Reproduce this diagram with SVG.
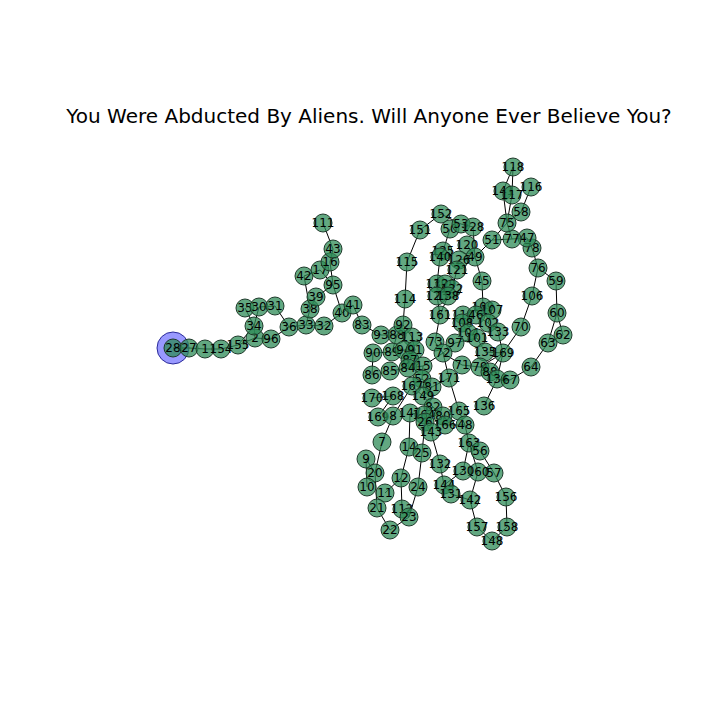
<svg xmlns="http://www.w3.org/2000/svg" width="720" height="720" viewBox="0 0 720 720">
<style>
.e line{stroke:#000;stroke-width:1}
.n circle{fill:#2e8b57;fill-opacity:0.75;stroke:#1f3a2b;stroke-width:1}
.n text{font-family:"DejaVu Sans",sans-serif;font-size:12px;fill:#000;text-anchor:middle;dominant-baseline:central}
.t{font-family:"DejaVu Sans",sans-serif;font-size:20px;fill:#000;text-anchor:middle}
</style>
<rect width="720" height="720" fill="#fff"/>
<text class="t" x="369" y="123">You Were Abducted By Aliens. Will Anyone Ever Believe You?</text>
<circle id="highlight" cx="173" cy="348" r="16" fill="#0000ff" fill-opacity="0.4" stroke="#2a2a9a" stroke-width="1"/>
<g class="e" id="edges">
<line x1="173" y1="348" x2="189" y2="348"/><line x1="189" y1="348" x2="205" y2="349"/><line x1="205" y1="349" x2="221" y2="349"/><line x1="221" y1="349" x2="238" y2="345"/><line x1="238" y1="345" x2="255" y2="338"/><line x1="238" y1="345" x2="254" y2="326"/><line x1="255" y1="338" x2="254" y2="326"/><line x1="255" y1="338" x2="271" y2="339"/><line x1="254" y1="326" x2="245" y2="308"/><line x1="254" y1="326" x2="259" y2="307"/><line x1="259" y1="307" x2="275" y2="306"/><line x1="275" y1="306" x2="289" y2="327"/><line x1="271" y1="339" x2="289" y2="327"/><line x1="289" y1="327" x2="306" y2="325"/><line x1="306" y1="325" x2="324" y2="326"/><line x1="306" y1="325" x2="310" y2="309"/><line x1="310" y1="309" x2="316" y2="297"/><line x1="310" y1="309" x2="304" y2="276"/><line x1="304" y1="276" x2="320" y2="270"/><line x1="316" y1="297" x2="333" y2="285"/><line x1="333" y1="285" x2="330" y2="262"/><line x1="333" y1="285" x2="320" y2="270"/><line x1="330" y1="262" x2="333" y2="249"/><line x1="333" y1="249" x2="323" y2="223"/><line x1="333" y1="285" x2="342" y2="313"/><line x1="342" y1="313" x2="324" y2="326"/><line x1="342" y1="313" x2="353" y2="305"/><line x1="353" y1="305" x2="362" y2="325"/><line x1="362" y1="325" x2="381" y2="335"/><line x1="381" y1="335" x2="397" y2="335"/><line x1="397" y1="335" x2="403" y2="325"/><line x1="397" y1="335" x2="392" y2="352"/><line x1="403" y1="325" x2="412" y2="337"/><line x1="403" y1="325" x2="405" y2="299"/><line x1="405" y1="299" x2="407" y2="262"/><line x1="407" y1="262" x2="420" y2="230"/><line x1="420" y1="230" x2="441" y2="214"/><line x1="441" y1="214" x2="461" y2="224"/><line x1="461" y1="224" x2="473" y2="227"/><line x1="450" y1="229" x2="443" y2="251"/><line x1="473" y1="227" x2="475" y2="257"/><line x1="467" y1="245" x2="475" y2="257"/><line x1="459" y1="260" x2="475" y2="257"/><line x1="475" y1="257" x2="492" y2="240"/><line x1="475" y1="257" x2="482" y2="281"/><line x1="482" y1="281" x2="483" y2="307"/><line x1="443" y1="251" x2="440" y2="257"/><line x1="440" y1="257" x2="437" y2="284"/><line x1="459" y1="260" x2="457" y2="270"/><line x1="457" y1="270" x2="452" y2="289"/><line x1="437" y1="284" x2="437" y2="296"/><line x1="445" y1="284" x2="448" y2="296"/><line x1="452" y1="289" x2="448" y2="296"/><line x1="448" y1="296" x2="440" y2="315"/><line x1="437" y1="296" x2="440" y2="315"/><line x1="440" y1="315" x2="435" y2="342"/><line x1="435" y1="342" x2="443" y2="353"/><line x1="443" y1="353" x2="455" y2="343"/><line x1="455" y1="343" x2="477" y2="338"/><line x1="443" y1="353" x2="462" y2="365"/><line x1="443" y1="353" x2="423" y2="366"/><line x1="443" y1="353" x2="449" y2="378"/><line x1="462" y1="365" x2="480" y2="367"/><line x1="480" y1="367" x2="490" y2="372"/><line x1="490" y1="372" x2="497" y2="379"/><line x1="497" y1="379" x2="510" y2="380"/><line x1="510" y1="380" x2="531" y2="367"/><line x1="531" y1="367" x2="548" y2="343"/><line x1="548" y1="343" x2="563" y2="335"/><line x1="548" y1="343" x2="557" y2="313"/><line x1="563" y1="335" x2="557" y2="313"/><line x1="557" y1="313" x2="556" y2="281"/><line x1="556" y1="281" x2="538" y2="268"/><line x1="538" y1="268" x2="532" y2="248"/><line x1="538" y1="268" x2="532" y2="296"/><line x1="532" y1="296" x2="521" y2="327"/><line x1="521" y1="327" x2="503" y2="353"/><line x1="503" y1="353" x2="485" y2="352"/><line x1="503" y1="353" x2="490" y2="372"/><line x1="503" y1="353" x2="498" y2="332"/><line x1="503" y1="353" x2="497" y2="379"/><line x1="503" y1="353" x2="480" y2="367"/><line x1="485" y1="352" x2="477" y2="338"/><line x1="498" y1="332" x2="488" y2="323"/><line x1="488" y1="323" x2="492" y2="310"/><line x1="492" y1="310" x2="483" y2="307"/><line x1="483" y1="307" x2="463" y2="315"/><line x1="463" y1="315" x2="462" y2="323"/><line x1="462" y1="323" x2="468" y2="333"/><line x1="468" y1="333" x2="477" y2="338"/><line x1="476" y1="315" x2="488" y2="323"/><line x1="492" y1="240" x2="507" y2="223"/><line x1="507" y1="223" x2="512" y2="239"/><line x1="512" y1="239" x2="527" y2="238"/><line x1="527" y1="238" x2="532" y2="248"/><line x1="507" y1="223" x2="503" y2="191"/><line x1="507" y1="223" x2="512" y2="195"/><line x1="512" y1="195" x2="513" y2="167"/><line x1="503" y1="191" x2="513" y2="167"/><line x1="507" y1="223" x2="521" y2="212"/><line x1="521" y1="212" x2="531" y2="187"/><line x1="512" y1="239" x2="492" y2="240"/><line x1="497" y1="379" x2="484" y2="406"/><line x1="459" y1="411" x2="465" y2="425"/><line x1="449" y1="378" x2="459" y2="411"/><line x1="392" y1="352" x2="373" y2="353"/><line x1="373" y1="353" x2="372" y2="375"/><line x1="390" y1="371" x2="408" y2="368"/><line x1="392" y1="352" x2="404" y2="350"/><line x1="404" y1="350" x2="415" y2="350"/><line x1="412" y1="337" x2="415" y2="350"/><line x1="415" y1="350" x2="410" y2="360"/><line x1="410" y1="360" x2="408" y2="368"/><line x1="408" y1="368" x2="423" y2="366"/><line x1="423" y1="366" x2="422" y2="379"/><line x1="422" y1="379" x2="412" y2="386"/><line x1="422" y1="379" x2="432" y2="387"/><line x1="412" y1="386" x2="423" y2="396"/><line x1="432" y1="387" x2="423" y2="396"/><line x1="423" y1="396" x2="433" y2="407"/><line x1="433" y1="407" x2="443" y2="416"/><line x1="443" y1="416" x2="445" y2="425"/><line x1="445" y1="425" x2="465" y2="425"/><line x1="433" y1="407" x2="424" y2="415"/><line x1="424" y1="415" x2="425" y2="422"/><line x1="425" y1="422" x2="431" y2="432"/><line x1="431" y1="432" x2="440" y2="464"/><line x1="440" y1="464" x2="444" y2="485"/><line x1="444" y1="485" x2="451" y2="494"/><line x1="451" y1="494" x2="470" y2="500"/><line x1="444" y1="485" x2="463" y2="471"/><line x1="463" y1="471" x2="469" y2="443"/><line x1="469" y1="443" x2="465" y2="425"/><line x1="469" y1="443" x2="478" y2="472"/><line x1="469" y1="443" x2="480" y2="451"/><line x1="480" y1="451" x2="494" y2="473"/><line x1="494" y1="473" x2="506" y2="497"/><line x1="506" y1="497" x2="507" y2="527"/><line x1="507" y1="527" x2="492" y2="541"/><line x1="492" y1="541" x2="477" y2="527"/><line x1="477" y1="527" x2="470" y2="500"/><line x1="478" y1="472" x2="470" y2="500"/><line x1="425" y1="422" x2="422" y2="453"/><line x1="422" y1="453" x2="418" y2="487"/><line x1="418" y1="487" x2="409" y2="517"/><line x1="409" y1="517" x2="390" y2="530"/><line x1="390" y1="530" x2="377" y2="508"/><line x1="377" y1="508" x2="375" y2="473"/><line x1="375" y1="473" x2="366" y2="459"/><line x1="366" y1="459" x2="367" y2="487"/><line x1="385" y1="493" x2="401" y2="478"/><line x1="401" y1="478" x2="409" y2="447"/><line x1="409" y1="447" x2="410" y2="413"/><line x1="401" y1="478" x2="402" y2="509"/><line x1="402" y1="509" x2="409" y2="517"/><line x1="382" y1="442" x2="375" y2="473"/><line x1="382" y1="442" x2="393" y2="416"/><line x1="393" y1="416" x2="412" y2="386"/><line x1="378" y1="417" x2="393" y2="396"/><line x1="393" y1="396" x2="372" y2="398"/><line x1="410" y1="413" x2="424" y2="415"/><line x1="432" y1="387" x2="449" y2="378"/>
</g>
<g class="n">
<g id="n28"><circle cx="173" cy="348" r="9"/><text x="173" y="348">28</text></g>
<g id="n27"><circle cx="189" cy="348" r="9"/><text x="189" y="348">27</text></g>
<g id="n1"><circle cx="205" cy="349" r="9"/><text x="205" y="349">1</text></g>
<g id="n154"><circle cx="221" cy="349" r="9"/><text x="221" y="349">154</text></g>
<g id="n155"><circle cx="238" cy="345" r="9"/><text x="238" y="345">155</text></g>
<g id="n2"><circle cx="255" cy="338" r="9"/><text x="255" y="338">2</text></g>
<g id="n96"><circle cx="271" cy="339" r="9"/><text x="271" y="339">96</text></g>
<g id="n34"><circle cx="254" cy="326" r="9"/><text x="254" y="326">34</text></g>
<g id="n35"><circle cx="245" cy="308" r="9"/><text x="245" y="308">35</text></g>
<g id="n30"><circle cx="259" cy="307" r="9"/><text x="259" y="307">30</text></g>
<g id="n31"><circle cx="275" cy="306" r="9"/><text x="275" y="306">31</text></g>
<g id="n36"><circle cx="289" cy="327" r="9"/><text x="289" y="327">36</text></g>
<g id="n33"><circle cx="306" cy="325" r="9"/><text x="306" y="325">33</text></g>
<g id="n32"><circle cx="324" cy="326" r="9"/><text x="324" y="326">32</text></g>
<g id="n38"><circle cx="310" cy="309" r="9"/><text x="310" y="309">38</text></g>
<g id="n39"><circle cx="316" cy="297" r="9"/><text x="316" y="297">39</text></g>
<g id="n42"><circle cx="304" cy="276" r="9"/><text x="304" y="276">42</text></g>
<g id="n17"><circle cx="320" cy="270" r="9"/><text x="320" y="270">17</text></g>
<g id="n16"><circle cx="330" cy="262" r="9"/><text x="330" y="262">16</text></g>
<g id="n43"><circle cx="333" cy="249" r="9"/><text x="333" y="249">43</text></g>
<g id="n111"><circle cx="323" cy="223" r="9"/><text x="323" y="223">111</text></g>
<g id="n95"><circle cx="333" cy="285" r="9"/><text x="333" y="285">95</text></g>
<g id="n40"><circle cx="342" cy="313" r="9"/><text x="342" y="313">40</text></g>
<g id="n41"><circle cx="353" cy="305" r="9"/><text x="353" y="305">41</text></g>
<g id="n83"><circle cx="362" cy="325" r="9"/><text x="362" y="325">83</text></g>
<g id="n93"><circle cx="381" cy="335" r="9"/><text x="381" y="335">93</text></g>
<g id="n114"><circle cx="405" cy="299" r="9"/><text x="405" y="299">114</text></g>
<g id="n115"><circle cx="407" cy="262" r="9"/><text x="407" y="262">115</text></g>
<g id="n151"><circle cx="420" cy="230" r="9"/><text x="420" y="230">151</text></g>
<g id="n152"><circle cx="441" cy="214" r="9"/><text x="441" y="214">152</text></g>
<g id="n50"><circle cx="450" cy="229" r="9"/><text x="450" y="229">50</text></g>
<g id="n53"><circle cx="461" cy="224" r="9"/><text x="461" y="224">53</text></g>
<g id="n128"><circle cx="473" cy="227" r="9"/><text x="473" y="227">128</text></g>
<g id="n120"><circle cx="467" cy="245" r="9"/><text x="467" y="245">120</text></g>
<g id="n49"><circle cx="475" cy="257" r="9"/><text x="475" y="257">49</text></g>
<g id="n125"><circle cx="443" cy="251" r="9"/><text x="443" y="251">125</text></g>
<g id="n140"><circle cx="440" cy="257" r="9"/><text x="440" y="257">140</text></g>
<g id="n126"><circle cx="459" cy="260" r="9"/><text x="459" y="260">126</text></g>
<g id="n121"><circle cx="457" cy="270" r="9"/><text x="457" y="270">121</text></g>
<g id="n45"><circle cx="482" cy="281" r="9"/><text x="482" y="281">45</text></g>
<g id="n139"><circle cx="437" cy="284" r="9"/><text x="437" y="284">139</text></g>
<g id="n129"><circle cx="445" cy="284" r="9"/><text x="445" y="284">129</text></g>
<g id="n122"><circle cx="452" cy="289" r="9"/><text x="452" y="289">122</text></g>
<g id="n123"><circle cx="437" cy="296" r="9"/><text x="437" y="296">123</text></g>
<g id="n138"><circle cx="448" cy="296" r="9"/><text x="448" y="296">138</text></g>
<g id="n161"><circle cx="440" cy="315" r="9"/><text x="440" y="315">161</text></g>
<g id="n109"><circle cx="483" cy="307" r="9"/><text x="483" y="307">109</text></g>
<g id="n107"><circle cx="492" cy="310" r="9"/><text x="492" y="310">107</text></g>
<g id="n110"><circle cx="463" cy="315" r="9"/><text x="463" y="315">110</text></g>
<g id="n46"><circle cx="476" cy="315" r="9"/><text x="476" y="315">46</text></g>
<g id="n108"><circle cx="462" cy="323" r="9"/><text x="462" y="323">108</text></g>
<g id="n102"><circle cx="488" cy="323" r="9"/><text x="488" y="323">102</text></g>
<g id="n133"><circle cx="498" cy="332" r="9"/><text x="498" y="332">133</text></g>
<g id="n104"><circle cx="468" cy="333" r="9"/><text x="468" y="333">104</text></g>
<g id="n101"><circle cx="477" cy="338" r="9"/><text x="477" y="338">101</text></g>
<g id="n135"><circle cx="485" cy="352" r="9"/><text x="485" y="352">135</text></g>
<g id="n103"><circle cx="503" cy="353" r="9"/><text x="503" y="353">169</text></g>
<g id="n73"><circle cx="435" cy="342" r="9"/><text x="435" y="342">73</text></g>
<g id="n97"><circle cx="455" cy="343" r="9"/><text x="455" y="343">97</text></g>
<g id="n72"><circle cx="443" cy="353" r="9"/><text x="443" y="353">72</text></g>
<g id="n71"><circle cx="462" cy="365" r="9"/><text x="462" y="365">71</text></g>
<g id="n79"><circle cx="480" cy="367" r="9"/><text x="480" y="367">79</text></g>
<g id="n98"><circle cx="490" cy="372" r="9"/><text x="490" y="372">88</text></g>
<g id="n134"><circle cx="497" cy="379" r="9"/><text x="497" y="379">134</text></g>
<g id="n67"><circle cx="510" cy="380" r="9"/><text x="510" y="380">67</text></g>
<g id="n64"><circle cx="531" cy="367" r="9"/><text x="531" y="367">64</text></g>
<g id="n63"><circle cx="548" cy="343" r="9"/><text x="548" y="343">63</text></g>
<g id="n62"><circle cx="563" cy="335" r="9"/><text x="563" y="335">62</text></g>
<g id="n60"><circle cx="557" cy="313" r="9"/><text x="557" y="313">60</text></g>
<g id="n59"><circle cx="556" cy="281" r="9"/><text x="556" y="281">59</text></g>
<g id="n106"><circle cx="532" cy="296" r="9"/><text x="532" y="296">106</text></g>
<g id="n70"><circle cx="521" cy="327" r="9"/><text x="521" y="327">70</text></g>
<g id="n76"><circle cx="538" cy="268" r="9"/><text x="538" y="268">76</text></g>
<g id="n78"><circle cx="532" cy="248" r="9"/><text x="532" y="248">78</text></g>
<g id="n47"><circle cx="527" cy="238" r="9"/><text x="527" y="238">47</text></g>
<g id="n77"><circle cx="512" cy="239" r="9"/><text x="512" y="239">77</text></g>
<g id="n51"><circle cx="492" cy="240" r="9"/><text x="492" y="240">51</text></g>
<g id="n75"><circle cx="507" cy="223" r="9"/><text x="507" y="223">75</text></g>
<g id="n58"><circle cx="521" cy="212" r="9"/><text x="521" y="212">58</text></g>
<g id="n116"><circle cx="531" cy="187" r="9"/><text x="531" y="187">116</text></g>
<g id="n118"><circle cx="513" cy="167" r="9"/><text x="513" y="167">118</text></g>
<g id="n141"><circle cx="503" cy="191" r="9"/><text x="503" y="191">141</text></g>
<g id="n117"><circle cx="512" cy="195" r="9"/><text x="512" y="195">117</text></g>
<g id="n171"><circle cx="449" cy="378" r="9"/><text x="449" y="378">171</text></g>
<g id="n165"><circle cx="459" cy="411" r="9"/><text x="459" y="411">165</text></g>
<g id="n136"><circle cx="484" cy="406" r="9"/><text x="484" y="406">136</text></g>
<g id="n48"><circle cx="465" cy="425" r="9"/><text x="465" y="425">48</text></g>
<g id="n163"><circle cx="469" cy="443" r="9"/><text x="469" y="443">163</text></g>
<g id="n56"><circle cx="480" cy="451" r="9"/><text x="480" y="451">56</text></g>
<g id="n57"><circle cx="494" cy="473" r="9"/><text x="494" y="473">57</text></g>
<g id="n160"><circle cx="478" cy="472" r="9"/><text x="478" y="472">160</text></g>
<g id="n130"><circle cx="463" cy="471" r="9"/><text x="463" y="471">130</text></g>
<g id="n132"><circle cx="440" cy="464" r="9"/><text x="440" y="464">132</text></g>
<g id="n144"><circle cx="444" cy="485" r="9"/><text x="444" y="485">144</text></g>
<g id="n131"><circle cx="451" cy="494" r="9"/><text x="451" y="494">131</text></g>
<g id="n142"><circle cx="470" cy="500" r="9"/><text x="470" y="500">142</text></g>
<g id="n156"><circle cx="506" cy="497" r="9"/><text x="506" y="497">156</text></g>
<g id="n157"><circle cx="477" cy="527" r="9"/><text x="477" y="527">157</text></g>
<g id="n158"><circle cx="507" cy="527" r="9"/><text x="507" y="527">158</text></g>
<g id="n148"><circle cx="492" cy="541" r="9"/><text x="492" y="541">148</text></g>
<g id="n90"><circle cx="373" cy="353" r="9"/><text x="373" y="353">90</text></g>
<g id="n86"><circle cx="372" cy="375" r="9"/><text x="372" y="375">86</text></g>
<g id="n85"><circle cx="390" cy="371" r="9"/><text x="390" y="371">85</text></g>
<g id="n88"><circle cx="397" cy="335" r="9"/><text x="397" y="335">88</text></g>
<g id="n92"><circle cx="403" cy="325" r="9"/><text x="403" y="325">92</text></g>
<g id="n113"><circle cx="412" cy="337" r="9"/><text x="412" y="337">113</text></g>
<g id="n89"><circle cx="392" cy="352" r="9"/><text x="392" y="352">89</text></g>
<g id="n94"><circle cx="404" cy="350" r="9"/><text x="404" y="350">94</text></g>
<g id="n91"><circle cx="415" cy="350" r="9"/><text x="415" y="350">91</text></g>
<g id="n87"><circle cx="410" cy="360" r="9"/><text x="410" y="360">87</text></g>
<g id="n84"><circle cx="408" cy="368" r="9"/><text x="408" y="368">84</text></g>
<g id="n15"><circle cx="423" cy="366" r="9"/><text x="423" y="366">15</text></g>
<g id="n52"><circle cx="422" cy="379" r="9"/><text x="422" y="379">52</text></g>
<g id="n170"><circle cx="372" cy="398" r="9"/><text x="372" y="398">170</text></g>
<g id="n168"><circle cx="393" cy="396" r="9"/><text x="393" y="396">168</text></g>
<g id="n169"><circle cx="378" cy="417" r="9"/><text x="378" y="417">169</text></g>
<g id="n8"><circle cx="393" cy="416" r="9"/><text x="393" y="416">8</text></g>
<g id="n167"><circle cx="412" cy="386" r="9"/><text x="412" y="386">167</text></g>
<g id="n81"><circle cx="432" cy="387" r="9"/><text x="432" y="387">81</text></g>
<g id="n149"><circle cx="423" cy="396" r="9"/><text x="423" y="396">149</text></g>
<g id="n147"><circle cx="410" cy="413" r="9"/><text x="410" y="413">147</text></g>
<g id="n82"><circle cx="433" cy="407" r="9"/><text x="433" y="407">82</text></g>
<g id="n164"><circle cx="424" cy="415" r="9"/><text x="424" y="415">164</text></g>
<g id="n80"><circle cx="443" cy="416" r="9"/><text x="443" y="416">80</text></g>
<g id="n26"><circle cx="425" cy="422" r="9"/><text x="425" y="422">26</text></g>
<g id="n166"><circle cx="445" cy="425" r="9"/><text x="445" y="425">166</text></g>
<g id="n143"><circle cx="431" cy="432" r="9"/><text x="431" y="432">143</text></g>
<g id="n7"><circle cx="382" cy="442" r="9"/><text x="382" y="442">7</text></g>
<g id="n14"><circle cx="409" cy="447" r="9"/><text x="409" y="447">14</text></g>
<g id="n25"><circle cx="422" cy="453" r="9"/><text x="422" y="453">25</text></g>
<g id="n9"><circle cx="366" cy="459" r="9"/><text x="366" y="459">9</text></g>
<g id="n20"><circle cx="375" cy="473" r="9"/><text x="375" y="473">20</text></g>
<g id="n12"><circle cx="401" cy="478" r="9"/><text x="401" y="478">12</text></g>
<g id="n10"><circle cx="367" cy="487" r="9"/><text x="367" y="487">10</text></g>
<g id="n24"><circle cx="418" cy="487" r="9"/><text x="418" y="487">24</text></g>
<g id="n11"><circle cx="385" cy="493" r="9"/><text x="385" y="493">11</text></g>
<g id="n21"><circle cx="377" cy="508" r="9"/><text x="377" y="508">21</text></g>
<g id="n112"><circle cx="402" cy="509" r="9"/><text x="402" y="509">112</text></g>
<g id="n23"><circle cx="409" cy="517" r="9"/><text x="409" y="517">23</text></g>
<g id="n22"><circle cx="390" cy="530" r="9"/><text x="390" y="530">22</text></g>
</g>
</svg>
